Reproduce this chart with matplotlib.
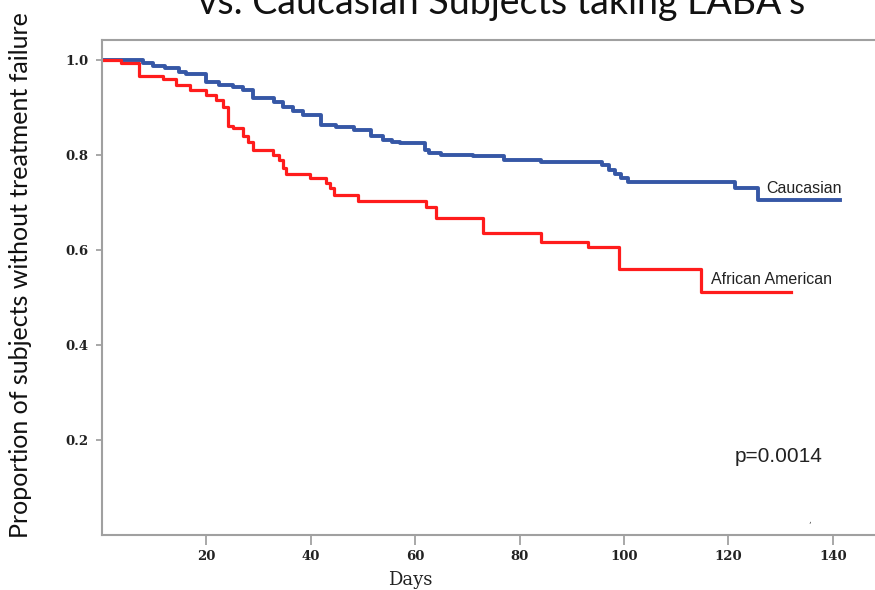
import numpy as np
import matplotlib.pyplot as plt

# Kaplan-Meier step points (day, proportion)
aa_days = [0, 3.7, 7.1, 11.6, 14.2, 16.8, 20.0, 21.9, 23.1, 24.1, 25.1, 27.0, 27.9,
           28.9, 32.7, 34.0, 34.6, 35.3, 39.8, 42.9, 43.7, 44.5, 49.0, 62.0, 64.0,
           73.0, 84.1, 93.1, 99.0, 114.8, 132.0]
aa_surv = [1.0, 0.993, 0.967, 0.959, 0.947, 0.937, 0.926, 0.916, 0.902, 0.862, 0.856,
           0.839, 0.828, 0.811, 0.800, 0.789, 0.772, 0.761, 0.752, 0.742, 0.731, 0.716,
           0.703, 0.691, 0.667, 0.635, 0.617, 0.607, 0.561, 0.512, 0.512]

cau_days = [0, 7.8, 9.7, 12.0, 14.8, 16.1, 20.0, 22.5, 25.1, 27.0, 28.9, 33.0, 34.6,
            36.6, 38.5, 42.0, 44.9, 48.3, 51.5, 53.8, 55.5, 57.0, 61.8, 62.7, 65.0,
            71.0, 77.1, 84.1, 95.7, 97.2, 98.2, 99.5, 100.8, 121.2, 125.6, 141.3]
cau_surv = [1.0, 0.993, 0.987, 0.983, 0.975, 0.971, 0.954, 0.947, 0.943, 0.937, 0.921,
            0.912, 0.902, 0.893, 0.884, 0.863, 0.858, 0.852, 0.840, 0.832, 0.828, 0.825,
            0.811, 0.805, 0.800, 0.797, 0.789, 0.785, 0.779, 0.768, 0.759, 0.752, 0.744,
            0.730, 0.705, 0.705]

x_ticks = [20, 40, 60, 80, 100, 120, 140]
y_ticks = [0.2, 0.4, 0.6, 0.8, 1.0]

fig = plt.figure(figsize=(8.75, 5.9), dpi=100)
ax = fig.add_axes([102 / 875, 55 / 590, 780 / 875, 495 / 590])

ax.step(cau_days, cau_surv, where="post", color="#3657a6", lw=2.8)
ax.step(aa_days, aa_surv, where="post", color="#ff1c1c", lw=2.3)

ax.set_xlim(0, 780 / 5.22)
ax.set_ylim(0, 495 / 475)

ax.set_xticks(x_ticks)
ax.set_yticks(y_ticks)
ax.set_xticklabels([str(t) for t in x_ticks])
ax.set_yticklabels(["%.1f" % t for t in y_ticks])
for lab in ax.get_xticklabels() + ax.get_yticklabels():
    lab.set_family("DejaVu Serif")
    lab.set_weight("bold")
    lab.set_fontsize(9.5)
    lab.set_color("#222222")
ax.tick_params(axis="x", length=7.5, width=1.2, color="#999999", pad=3)
ax.tick_params(axis="y", length=4.5, width=1.2, color="#999999", pad=5)

for s in ["left", "bottom", "top", "right"]:
    ax.spines[s].set_color("#a0a0a0")
    ax.spines[s].set_linewidth(1.5)

ax.text(127.3, 0.730, "Caucasian", fontsize=11.5, family="Liberation Sans",
        va="center", ha="left", color="#222222")
ax.text(116.6, 0.537, "African American", fontsize=11.5, family="Liberation Sans",
        va="center", ha="left", color="#222222")
ax.text(121.2, 0.166, "p=0.0014", fontsize=15, family="Liberation Sans",
        va="center", ha="left", color="#222222")
ax.text(135.5, 0.03, ",", fontsize=6, ha="center", va="center", color="#444444")

ax.set_xlabel("Days", family="DejaVu Serif", fontsize=13, color="#222222")
ax.xaxis.set_label_coords((410 - 102) / 780, -36 / 495)

fig.text(20 / 875, 1 - 538 / 590, "Proportion of subjects without treatment failure",
         rotation=90, ha="left", va="center", family="Lato", fontsize=18,
         rotation_mode="anchor", color="#111111")

fig.text(502 / 875, 1 - 14 / 590, "vs. Caucasian Subjects taking LABA's",
         ha="center", va="baseline", family="Lato", fontsize=27, color="#111111")

fig.savefig("out.png", dpi=100)
